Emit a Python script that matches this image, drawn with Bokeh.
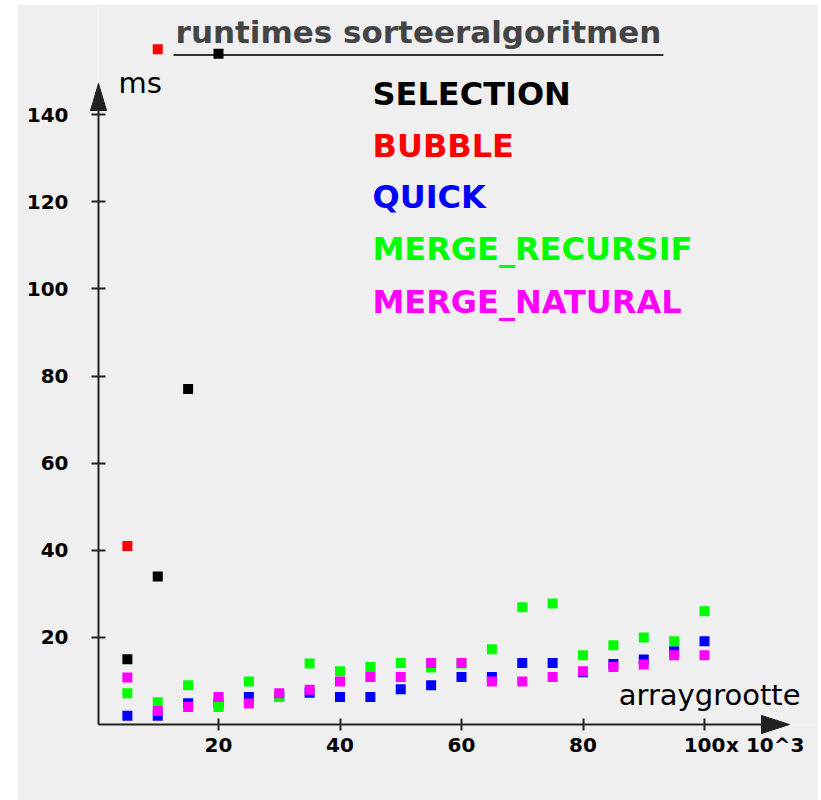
from bokeh.plotting import figure
from bokeh.models import Range1d, LinearAxis, FixedTicker, Spacer
from bokeh.layouts import row, column
from bokeh.embed import file_html
from bokeh.resources import INLINE
from bokeh.core.properties import value

# ---------------- data ----------------
title_text = "runtimes sorteeralgoritmen"
y_label = "ms"
x_label = "arraygrootte"
x_unit = "x 10^3"

series_names = ["SELECTION", "BUBBLE", "QUICK", "MERGE_RECURSIF", "MERGE_NATURAL"]
series_colors = ["#000000", "#ff0000", "#0000ff", "#00ff00", "#ff00ff"]

sizes = [5, 10, 15, 20, 25, 30, 35, 40, 45, 50, 55, 60, 65, 70, 75, 80, 85, 90, 95, 100]
selection = [15, 34, 77, 154]
bubble = [41, 155]
quick = [2.0, 2.0, 4.9, 5.0, 6.3, 6.5, 7.3, 6.3, 6.3, 8.1, 9.0, 10.9, 10.9, 14.1, 14.1, 12.0, 13.9, 14.9, 16.8, 19.1]
merge_recursif = [7.2, 5.1, 9.0, 4.0, 9.9, 6.3, 14.0, 12.2, 13.2, 14.1, 13.1, 14.0, 17.3, 26.9, 27.8, 15.9, 18.2, 20.0, 19.1, 26.0]
merge_natural = [10.8, 3.1, 4.0, 6.3, 4.8, 7.2, 8.0, 9.9, 10.9, 10.9, 14.1, 14.1, 9.9, 9.9, 10.9, 12.2, 13.2, 13.8, 15.9, 15.9]

x_ticks = [20, 40, 60, 80, 100]
x_unit_pos = 110            # where the unit note sits along the x axis
y_ticks = [20, 40, 60, 80, 100, 120, 140]

# ---------------- layout helpers (page pixels -> data) ----------------
GRAY = "#efefef"
AX = "#222222"
FONT = "DejaVu Sans"
FIG_LEFT, FIG_TOP = 17, 4
FIG_W, FIG_H = 801, 796
X_PX, X0_PX = 6.075, 96.5      # px per unit, page x of value 0
Y_PX, Y0_PX = 4.356, 724.0     # px per unit, page y of value 0


def dx(px):
    return (px - X0_PX) / X_PX


def dy(py):
    return (Y0_PX - py) / Y_PX


p = figure(width=FIG_W, height=FIG_H,
           x_range=Range1d(dx(98), dx(FIG_LEFT + FIG_W)), y_range=Range1d(dy(724), dy(FIG_TOP)),
           x_axis_type=None, y_axis_type=None,
           toolbar_location=None, output_backend="svg",
           min_border_left=98 - FIG_LEFT, min_border_right=0, min_border_top=0,
           min_border_bottom=FIG_TOP + FIG_H - 724,
           background_fill_color=GRAY, border_fill_color=GRAY, outline_line_color=None)

yaxis = LinearAxis(ticker=FixedTicker(ticks=y_ticks), bounds=(0, dy(109)),
                   axis_line_width=2, axis_line_color=AX,
                   major_tick_in=7, major_tick_out=7, major_tick_line_width=2, major_tick_line_color=AX,
                   minor_tick_line_color=None,
                   major_label_text_font=FONT, major_label_text_font_size="20px",
                   major_label_text_font_style="bold", major_label_text_color="#000000",
                   major_label_standoff=23)
p.add_layout(yaxis, "left")

xaxis = LinearAxis(ticker=FixedTicker(ticks=x_ticks + [x_unit_pos]), bounds=(dx(98), dx(767)),
                   axis_line_width=2, axis_line_color=AX,
                   major_tick_in=6, major_tick_out=6, major_tick_line_width=2, major_tick_line_color=AX,
                   minor_tick_line_color=None,
                   major_label_overrides={x_unit_pos: x_unit},
                   major_label_text_font=FONT, major_label_text_font_size="20px",
                   major_label_text_font_style="bold", major_label_text_color="#000000",
                   major_label_standoff=2)
p.add_layout(xaxis, "below")

# arrow heads (drawn above the axes so the axis ends disappear in them)
p.patches(xs=[[dx(98), dx(90), dx(106)], [dx(789), dx(761), dx(761)]],
          ys=[[dy(83), dy(110), dy(110)], [dy(724), dy(715), dy(733)]],
          fill_color=AX, line_color=AX, line_width=1, level="overlay")

# title with underline
p.segment(x0=[dx(173)], y0=[dy(54.5)], x1=[dx(663)], y1=[dy(54.5)], line_width=2, line_color="#333333")
p.text(x=[dx(418)], y=[dy(31)], text=[title_text], text_font=value(FONT), text_font_style="bold",
       text_font_size="31px", text_color="#444444", text_align="center", text_baseline="middle")

# axis labels
p.text(x=[dx(118)], y=[dy(82.5)], text=[y_label], text_font=value(FONT), text_font_size="29px",
       text_color="#000000", text_align="left", text_baseline="middle")
p.text(x=[dx(800)], y=[dy(694.5)], text=[x_label], text_font=value(FONT), text_font_size="29px",
       text_color="#000000", text_align="right", text_baseline="middle")

# legend as coloured text
legend_centers = [93.3, 145, 196.7, 248.3, 301.3]
p.text(x=[dx(372)] * len(series_names), y=[dy(c) for c in legend_centers], text=series_names,
       text_color=series_colors, text_font=value(FONT), text_font_style="bold",
       text_font_size="32px", text_align="left", text_baseline="middle")

# data points
all_series = [selection, bubble, quick, merge_recursif, merge_natural]
for vals, col in zip(all_series, series_colors):
    p.scatter(x=sizes[:len(vals)], y=vals, marker="square", size=10,
              fill_color=col, line_color=None)

layout = column(Spacer(width=FIG_LEFT + FIG_W, height=FIG_TOP),
                row(Spacer(width=FIG_LEFT, height=FIG_H), p))
open("out.html", "w").write(file_html(layout, INLINE))
